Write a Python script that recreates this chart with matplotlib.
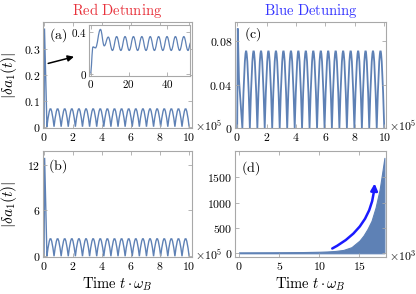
import matplotlib
matplotlib.use("Agg")
import matplotlib.pyplot as plt
from matplotlib.path import Path
from matplotlib.patches import PathPatch

plt.rcParams["font.family"] = "cmr10"
plt.rcParams["mathtext.fontset"] = "cm"
plt.rcParams["axes.unicode_minus"] = False

LINE = "#5E81B5"
FRAME = "#a8a8a8"

# =========================
# Data
# =========================

# (a) red detuning, time in units of 1e5
a_spike_t = [0.0, 0.03, 0.2]
a_spike_y = [0.0, 0.378, 0.0]
a_zeros = [0.2, 0.69, 1.18, 1.67, 2.16, 2.65, 3.14, 3.63, 4.12, 4.61, 5.1,
           5.59, 6.08, 6.57, 7.06, 7.55, 8.04, 8.53, 9.02, 9.51, 10.0]
a_peaks = [0.069, 0.069, 0.069, 0.069, 0.069, 0.069, 0.069, 0.069, 0.069, 0.069,
           0.069, 0.069, 0.069, 0.069, 0.069, 0.069, 0.069, 0.069, 0.069, 0.069]

# inset of (a): turning points of the early transient
in_t = [0.0, 1.3, 2.6, 5.2, 7.2, 9.3, 11.5, 13.7, 15.9, 18.1, 20.3, 22.5, 24.7,
        26.9, 29.1, 31.3, 33.5, 35.7, 37.9, 40.1, 42.3, 44.5, 46.7, 48.9, 51.1, 52.5]
in_y = [0.0, 0.26, 0.25, 0.43, 0.27, 0.355, 0.225, 0.36, 0.225, 0.36, 0.225, 0.36, 0.225,
        0.36, 0.225, 0.36, 0.225, 0.36, 0.225, 0.36, 0.225, 0.36, 0.225, 0.36, 0.225, 0.3]

# (b) red detuning, larger drive
b_spike_t = [0.0, 0.04, 0.2]
b_spike_y = [0.0, 12.9, 0.0]
b_zeros = a_zeros
b_peaks = [2.3, 2.3, 2.3, 2.3, 2.3, 2.3, 2.3, 2.3, 2.3, 2.3,
           2.3, 2.3, 2.3, 2.3, 2.3, 2.3, 2.3, 2.3, 2.3, 2.3]

# (c) blue detuning
c_spike_t = [0.0, 0.04, 0.12, 0.35]
c_spike_y = [0.0, 0.092, 0.045, 0.0]
c_zeros = [0.35, 0.86, 1.37, 1.87, 2.38, 2.89, 3.40, 3.91, 4.41, 4.92, 5.43,
           5.94, 6.44, 6.95, 7.46, 7.97, 8.48, 8.98, 9.49, 10.0]
c_peaks = [0.071, 0.071, 0.071, 0.071, 0.071, 0.071, 0.071, 0.071, 0.071, 0.071,
           0.071, 0.071, 0.071, 0.071, 0.071, 0.071, 0.071, 0.071, 0.071]

# (d) blue detuning, unstable growth (time in units of 1e3)
d_t = [0, 4, 8, 10, 11, 12, 13, 14, 15, 15.5, 16, 16.5, 17, 17.5, 17.8, 18.1]
d_upper = [18, 20, 24, 30, 36, 46, 66, 120, 250, 350, 480, 640, 900, 1250, 1560, 1880]
d_lower = [0, 0, 0, 0, 0, 0, 0, 0, 0, 0, 0, 0, 0, 0, 0, 0]

# tick labels
x_ticks_10 = [0, 2, 4, 6, 8, 10]
x_ticks_d = [0, 5, 10, 15]
y_ticks_a = [0, 0.1, 0.2, 0.3]
y_ticks_b = [0, 6, 12]
y_ticks_c = [0, 0.04, 0.08]
y_ticks_d = [0, 500, 1000, 1500]
y_ticks_in = [0, 0.4]
x_ticks_in = [0, 20, 40]


def mt(vals):
    return ["$%s$" % ("%g" % v) for v in vals]


def hump_path(ts, ys, zeros, peaks):
    verts = list(zip(ts, ys))
    codes = [Path.MOVETO] + [Path.LINETO] * (len(verts) - 1)
    for z0, z1, h in zip(zeros[:-1], zeros[1:], peaks):
        d = 0.42 * (z1 - z0)
        c = h * 4.0 / 3.0
        verts += [(z0 + d, c), (z1 - d, c), (z1, 0.0)]
        codes += [Path.CURVE4] * 3
    return Path(verts, codes)


def smooth_path(ts, ys):
    verts = [(ts[0], ys[0])]
    codes = [Path.MOVETO]
    for t0, y0, t1, y1 in zip(ts[:-1], ys[:-1], ts[1:], ys[1:]):
        d = 0.4 * (t1 - t0)
        verts += [(t0 + d, y0), (t1 - d, y1), (t1, y1)]
        codes += [Path.CURVE4] * 3
    return Path(verts, codes)


def style_frame(ax, fs=8.5):
    for s in ax.spines.values():
        s.set_color(FRAME)
        s.set_linewidth(0.8)
    ax.tick_params(which="both", direction="in", color=FRAME, top=True, right=True,
                   labelsize=fs, pad=2)
    ax.tick_params(which="major", length=3, width=0.6)


def multiplier(ax, text):
    ax.text(1.022, 0.012, text, transform=ax.transAxes, fontsize=8.5,
            ha="left", va="center")


fig = plt.figure(figsize=(4.16, 2.94), dpi=100)

ax_a = fig.add_axes([0.1034, 0.5646, 0.3582, 0.3605])
ax_c = fig.add_axes([0.5649, 0.5646, 0.3630, 0.3605])
ax_b = fig.add_axes([0.1034, 0.1259, 0.3582, 0.3605])
ax_d = fig.add_axes([0.5649, 0.1259, 0.3630, 0.3605])

# (a)
ax_a.add_patch(PathPatch(hump_path(a_spike_t, a_spike_y, a_zeros, a_peaks),
                         fill=False, color=LINE, lw=1.0))
ax_a.set_xlim(-0.07, 10.2)
ax_a.set_ylim(-0.005, 0.403)
ax_a.set_yticks(y_ticks_a, mt(y_ticks_a))
ax_a.set_xticks(x_ticks_10, mt(x_ticks_10))
style_frame(ax_a)
ax_a.text(0.1, 0.877, r"$\mathrm{(a)}$", transform=ax_a.transAxes, fontsize=10,
          ha="center", va="center")
ax_a.annotate("", xy=(2.25, 0.272), xytext=(0.1, 0.241),
              arrowprops=dict(arrowstyle="-|>", color="black", lw=1.1, mutation_scale=9))
multiplier(ax_a, r"$\times 10^5$")
ax_a.set_title(r"$\mathrm{Red\ Detuning}$", color="#e8323c", fontsize=10.5, pad=5)

# inset
ax_in = fig.add_axes([0.2139, 0.7415, 0.244, 0.1735])
ax_in.add_patch(PathPatch(smooth_path(in_t, in_y), fill=False, color=LINE, lw=0.9))
ax_in.set_xlim(-0.8, 52.4)
ax_in.set_ylim(-0.024, 0.473)
ax_in.set_xticks(x_ticks_in, mt(x_ticks_in))
ax_in.set_yticks(y_ticks_in, mt(y_ticks_in))
style_frame(ax_in, fs=8)
ax_in.tick_params(pad=1.5)

# (b)
ax_b.add_patch(PathPatch(hump_path(b_spike_t, b_spike_y, b_zeros, b_peaks),
                         fill=False, color=LINE, lw=1.0))
ax_b.set_xlim(-0.07, 10.2)
ax_b.set_ylim(-0.1, 13.8)
ax_b.set_yticks(y_ticks_b, mt(y_ticks_b))
ax_b.set_xticks(x_ticks_10, mt(x_ticks_10))
style_frame(ax_b)
ax_b.text(0.1, 0.855, r"$\mathrm{(b)}$", transform=ax_b.transAxes, fontsize=10,
          ha="center", va="center")
multiplier(ax_b, r"$\times 10^5$")
ax_b.set_xlabel(r"$\mathrm{Time}\ t\cdot\omega_B$", fontsize=10.5, labelpad=3)

# (c)
ax_c.add_patch(PathPatch(hump_path(c_spike_t, c_spike_y, c_zeros, c_peaks),
                         fill=False, color=LINE, lw=1.3))
ax_c.set_xlim(-0.15, 10.12)
ax_c.set_ylim(0.0, 0.098)
ax_c.set_yticks(y_ticks_c, mt(y_ticks_c))
ax_c.set_xticks(x_ticks_10, mt(x_ticks_10))
style_frame(ax_c)
ax_c.text(0.116, 0.887, r"$\mathrm{(c)}$", transform=ax_c.transAxes, fontsize=10,
          ha="center", va="center")
multiplier(ax_c, r"$\times 10^5$")
ax_c.set_title(r"$\mathrm{Blue\ Detuning}$", color="#3535ff", fontsize=10.5, pad=5)

# (d)
ax_d.fill_between(d_t, d_lower, d_upper, color=LINE, lw=0.8)
ax_d.set_xlim(-0.5, 18.3)
ax_d.set_ylim(-73, 2015)
ax_d.set_yticks(y_ticks_d, mt(y_ticks_d))
ax_d.set_xticks(x_ticks_d, mt(x_ticks_d))
style_frame(ax_d)
ax_d.text(0.106, 0.84, r"$\mathrm{(d)}$", transform=ax_d.transAxes, fontsize=10,
          ha="center", va="center")
ax_d.annotate("", xy=(16.9, 1430), xytext=(11.3, 70),
              arrowprops=dict(arrowstyle="-|>", color="#1a1aff", lw=1.8, mutation_scale=10,
                              connectionstyle="arc3,rad=0.3"))
multiplier(ax_d, r"$\times 10^3$")
ax_d.set_xlabel(r"$\mathrm{Time}\ t\cdot\omega_B$", fontsize=10.5, labelpad=3)

# shared y labels
for ax in (ax_a, ax_b):
    pos = ax.get_position()
    fig.text(9 / 416, pos.y0 + pos.height / 2, r"$|\delta a_1(t)|$", rotation=90,
             ha="center", va="center", fontsize=11)

fig.savefig("out.png", dpi=100)
